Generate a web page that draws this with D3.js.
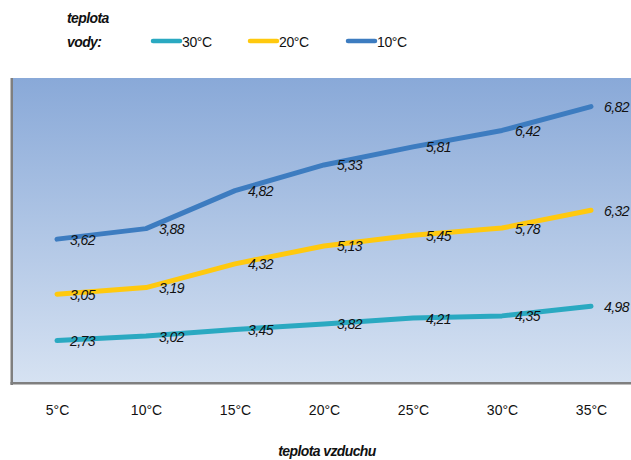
<!DOCTYPE html>
<html><head><meta charset="utf-8">
<script src="https://cdn.jsdelivr.net/npm/d3@7"></script>
<style>
html,body{margin:0;padding:0;background:#fff;}
svg{display:block;}
</style></head>
<body>
<svg id="c" width="631" height="460"></svg>
<script>
const categories = ["5°C","10°C","15°C","20°C","25°C","30°C","35°C"];
const seriesNames = ["30°C","20°C","10°C"];
const s30 = [2.73,3.02,3.45,3.82,4.21,4.35,4.98];
const s20 = [3.05,3.19,4.32,5.13,5.45,5.78,6.32];
const s10 = [3.62,3.88,4.82,5.33,5.81,6.42,6.82];
const colors = ["#2aa9c1","#ffc90e","#3d7cc0"];
const yDomain = [0,20];

const svg = d3.select("#c");
const W = 631, H = 460;
const plot = {l:12, t:78, r:631, b:383};

const defs = svg.append("defs");
const grad = defs.append("linearGradient").attr("id","bg").attr("x1",0).attr("y1",0).attr("x2",0).attr("y2",1);
grad.append("stop").attr("offset","0%").attr("stop-color","#89a9d8");
grad.append("stop").attr("offset","100%").attr("stop-color","#d6e2f2");

svg.append("rect").attr("x",plot.l).attr("y",plot.t).attr("width",plot.r-plot.l).attr("height",plot.b-plot.t).attr("fill","url(#bg)");
// shadow borders
svg.append("rect").attr("x",plot.l-1.5).attr("y",plot.t).attr("width",2.5).attr("height",plot.b-plot.t+2).attr("fill","#7f7f7f");
svg.append("rect").attr("x",plot.l-1.5).attr("y",plot.b-1).attr("width",plot.r-plot.l+2).attr("height",2.5).attr("fill","#7f7f7f");

const x = d3.scalePoint().domain(categories).range([57,591]);
const y = d3.scaleLinear().domain(yDomain).range([382,78]);

// stacked
const raw = [s30,s20,s10];
const stacked = [];
let acc = categories.map(()=>0);
raw.forEach((s,i)=>{
  acc = acc.map((a,j)=>a+s[j]);
  stacked.push(acc.slice());
});

const line = d3.line().x((d,i)=>x(categories[i])).y(d=>y(d));
stacked.forEach((s,i)=>{
  svg.append("path").attr("d",line(s)).attr("fill","none").attr("stroke",colors[i])
    .attr("stroke-width",5).attr("stroke-linecap","round").attr("stroke-linejoin","round");
});
const fmt = v => v.toFixed(2).replace(".",",");
stacked.forEach((s,i)=>{
  s.forEach((v,j)=>{
    svg.append("text").attr("x",x(categories[j])+13).attr("y",y(v)+5.5)
      .attr("font-family","'Liberation Sans Narrow','Arial Narrow','Liberation Sans',sans-serif")
      .attr("font-style","italic").attr("font-size",14).attr("letter-spacing",-0.6).attr("fill","#111")
      .text(fmt(raw[i][j]));
  });
});

// x axis labels
const xa = svg.append("g").attr("transform","translate(0,383)")
  .call(d3.axisBottom(x).tickSize(0).tickPadding(22));
xa.select(".domain").remove();
xa.selectAll("text").attr("font-family","'Liberation Sans Narrow','Arial Narrow',sans-serif")
  .attr("font-size",14).attr("fill","#111");

svg.append("text").attr("x",327).attr("y",456).attr("text-anchor","middle")
  .attr("font-family","'Liberation Sans Narrow','Arial Narrow',sans-serif").attr("font-weight","bold")
  .attr("font-style","italic").attr("font-size",14).attr("letter-spacing",-0.6).attr("fill","#111").text("teplota vzduchu");

// legend
const lf = "'Liberation Sans Narrow','Arial Narrow',sans-serif";
svg.append("text").attr("x",67).attr("y",23).attr("font-family",lf).attr("font-weight","bold").attr("font-style","italic")
  .attr("font-size",14).attr("letter-spacing",-0.6).attr("fill","#111").text("teplota");
svg.append("text").attr("x",67).attr("y",47).attr("font-family",lf).attr("font-weight","bold").attr("font-style","italic")
  .attr("font-size",14).attr("letter-spacing",-0.6).attr("fill","#111").text("vody:");
const legX = [153,250,348];
seriesNames.forEach((n,i)=>{
  svg.append("line").attr("x1",legX[i]).attr("x2",legX[i]+27).attr("y1",41).attr("y2",41)
    .attr("stroke",colors[i]).attr("stroke-width",4.5).attr("stroke-linecap","round");
  svg.append("text").attr("x",legX[i]+29).attr("y",47).attr("font-family",lf).attr("font-size",14)
    .attr("letter-spacing",-0.4).attr("fill","#111").text(n);
});
</script>
</body></html>
